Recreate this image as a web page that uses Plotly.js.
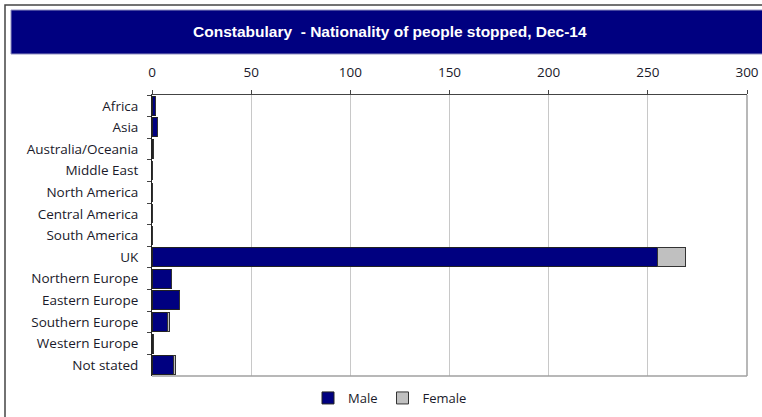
<!DOCTYPE html>
<html>
<head>
<meta charset="utf-8">
<script src="https://cdn.plot.ly/plotly-3.0.1.min.js"></script>
<style>html,body{margin:0;padding:0;background:#fff;}#chart{width:762px;height:417px;}</style>
</head>
<body>
<div id="chart"></div>
<script>
const categories = ["Africa","Asia","Australia/Oceania","Middle East","North America","Central America","South America","UK","Northern Europe","Eastern Europe","Southern Europe","Western Europe","Not stated"];
const male = [2,3,1,0,0,0,0,255,10,14,8,1,11];
const female = [0,0,0,0,0,0,0,14,0,0,1,0,1];
const xTicks = [0,50,100,150,200,250,300];
const titleText = "Constabulary  - Nationality of people stopped, Dec-14";

const L=152, R=15, T=95, B=41, W=762, H=417;
const pw = W-L-R, ph = H-T-B;
const px = x => (x-L)/pw;
const py = y => (H-B-y)/ph;

const traces = [
  {type:'bar', orientation:'h', name:'Male', y:categories, x:male,
   marker:{color:'#000080', line:{color:'#222', width:1}}, hoverinfo:'x+y'},
  {type:'bar', orientation:'h', name:'Female', y:categories, x:female,
   marker:{color:'#c0c0c0', line:{color:'#333', width:1}}, hoverinfo:'x+y'}
];

const layout = {
  width:W, height:H,
  margin:{l:L, r:R, t:T, b:B, pad:0, autoexpand:false},
  paper_bgcolor:'#fff', plot_bgcolor:'#fff',
  barmode:'stack', bargap:0.12,
  font:{family:'"Open Sans", "DejaVu Sans", sans-serif', size:13, color:'#1a1a2a'},
  xaxis:{side:'top', range:[0,300], tickvals:xTicks, ticktext:xTicks.map(String),
    showgrid:true, gridcolor:'#c8c8c8', gridwidth:1,
    showline:true, linecolor:'#444', linewidth:1,
    ticks:'outside', ticklen:4, tickcolor:'#444', ticklabelstandoff:8,
    zeroline:false, tickfont:{size:13.5, color:'#1a1a2a'}, fixedrange:true},
  yaxis:{type:'category', autorange:'reversed', categoryorder:'array', categoryarray:categories,
    showline:true, linecolor:'#222', linewidth:1,
    ticks:'outside', ticklen:4, tickcolor:'#444', tickson:'boundaries',
    showgrid:false, tickfont:{size:13.5, color:'#1a1a2a'}, ticklabelstandoff:10, fixedrange:true},
  showlegend:true,
  legend:{orientation:'h', x:px(390), xanchor:'center', y:py(398), yanchor:'middle',
    font:{size:13, color:'#1a1a2a'}, itemwidth:30, traceorder:'normal', bgcolor:'rgba(0,0,0,0)'},
  shapes:[
    {type:'rect', xref:'paper', yref:'paper', x0:px(5), x1:px(790), y0:py(440), y1:py(5),
      line:{color:'#444', width:1.5}, fillcolor:'rgba(0,0,0,0)', layer:'below'},
    {type:'rect', xref:'paper', yref:'paper', x0:px(11), x1:px(800), y0:py(54), y1:py(10),
      line:{color:'#9090c0', width:1}, fillcolor:'#000080', layer:'below'},
    {type:'line', xref:'paper', yref:'paper', x0:1, x1:1, y0:0, y1:1, line:{color:'#a0a0a0', width:1.5}},
    {type:'line', xref:'paper', yref:'paper', x0:0, x1:1, y0:0, y1:0, line:{color:'#a0a0a0', width:1.5}}
  ],
  annotations:[
    {xref:'paper', yref:'paper', x:px(390), y:py(32), xanchor:'center', yanchor:'middle',
     text:titleText, showarrow:false,
     font:{family:'"Liberation Sans", Arial, sans-serif', size:15.5, color:'#fff', weight:'bold'}}
  ]
};

Plotly.newPlot('chart', traces, layout, {displayModeBar:false, staticPlot:true});
</script>
</body>
</html>
